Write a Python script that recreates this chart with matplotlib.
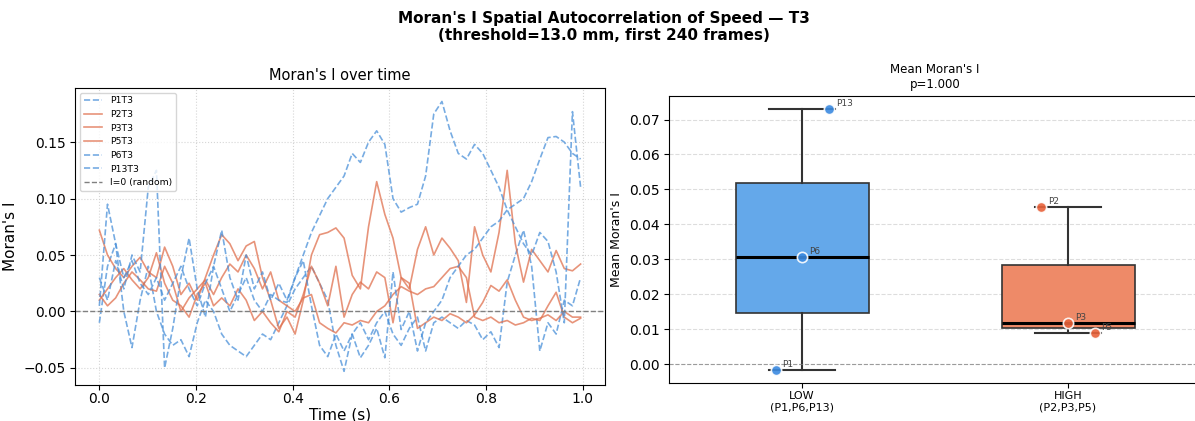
import numpy as np
import matplotlib
matplotlib.use("Agg")
from matplotlib import pyplot as plt

# time axis (first 240 frames, downsampled reading of the curves)
time_s = np.linspace(0, 0.996, 60)

P1T3 = [-0.010, 0.040, 0.060, 0.000, -0.032, 0.010, 0.040, 0.000, -0.020, -0.030,
        -0.025, -0.040, -0.010, 0.010, 0.000, -0.020, -0.030, -0.035, -0.040, -0.030,
        -0.020, -0.025, -0.010, 0.005, 0.020, 0.030, 0.040, 0.025, 0.010, -0.030,
        -0.053, -0.020, -0.010, -0.025, -0.010, 0.000, -0.020, -0.030, -0.015, -0.005,
        -0.035, -0.010, -0.005, -0.010, -0.015, -0.008, -0.012, -0.025, -0.018, -0.032,
        0.026, 0.050, 0.072, 0.040, -0.035, -0.010, -0.020, 0.010, 0.005, 0.030]
P2T3 = [0.072, 0.050, 0.038, 0.030, 0.040, 0.048, 0.035, 0.030, 0.057, 0.040,
        0.015, 0.025, 0.010, 0.030, 0.050, 0.068, 0.060, 0.045, 0.058, 0.062,
        0.030, 0.010, -0.015, -0.005, -0.020, 0.010, 0.050, 0.068, 0.070, 0.074,
        0.065, 0.032, 0.020, 0.075, 0.115, 0.086, 0.065, 0.030, 0.020, 0.055,
        0.075, 0.050, 0.065, 0.056, 0.045, 0.008, 0.075, 0.050, 0.035, 0.070,
        0.125, 0.060, 0.026, 0.055, 0.045, 0.035, 0.054, 0.038, 0.036, 0.042]
P3T3 = [0.015, 0.005, 0.012, 0.025, 0.035, 0.028, 0.020, 0.018, 0.040, 0.025,
        0.000, 0.012, 0.020, 0.028, 0.015, 0.030, 0.042, 0.035, 0.050, 0.038,
        0.020, 0.035, 0.010, 0.005, 0.000, 0.012, 0.015, -0.010, -0.015, -0.019,
        -0.010, -0.012, -0.008, -0.010, 0.000, 0.005, 0.015, 0.022, 0.018, 0.015,
        0.020, 0.022, 0.030, 0.038, 0.040, 0.030, -0.005, -0.008, -0.005, -0.010,
        -0.008, -0.012, -0.010, -0.006, -0.008, 0.005, 0.017, -0.005, -0.010, -0.006]
P5T3 = [0.010, 0.020, 0.030, 0.038, 0.028, 0.020, 0.030, 0.052, 0.025, 0.010,
        0.005, -0.005, 0.015, 0.025, 0.005, 0.012, 0.005, 0.020, 0.010, -0.008,
        0.000, -0.010, -0.018, 0.000, -0.005, 0.015, 0.040, 0.025, 0.005, 0.040,
        -0.005, 0.015, 0.026, 0.020, 0.035, 0.030, -0.010, 0.030, 0.025, -0.015,
        -0.010, -0.005, -0.008, -0.002, -0.005, -0.010, -0.003, 0.008, 0.023, 0.018,
        0.028, 0.010, -0.005, -0.008, -0.006, -0.003, -0.008, 0.000, -0.005, -0.005]
P6T3 = [0.030, 0.010, 0.045, 0.020, 0.050, 0.035, 0.110, 0.125, -0.050, -0.015,
        0.030, 0.065, 0.020, -0.005, 0.040, 0.072, 0.030, 0.010, 0.050, 0.020,
        0.035, 0.010, 0.025, 0.010, 0.030, 0.045, 0.005, -0.030, -0.040, -0.020,
        -0.035, -0.020, -0.041, -0.030, -0.015, -0.041, 0.035, -0.016, 0.000, -0.035,
        -0.010, 0.000, 0.010, 0.030, 0.040, 0.050, 0.055, 0.065, 0.075, 0.080,
        0.090, 0.095, 0.100, 0.115, 0.135, 0.154, 0.155, 0.150, 0.140, 0.135]
P13T3 = [0.005, 0.095, 0.060, 0.030, 0.045, 0.025, 0.015, 0.030, 0.010, 0.025,
         0.040, 0.020, 0.005, 0.025, 0.040, 0.020, 0.000, 0.015, 0.030, 0.010,
         0.000, 0.015, 0.010, 0.008, 0.030, 0.050, 0.070, 0.085, 0.100, 0.110,
         0.120, 0.140, 0.132, 0.150, 0.160, 0.148, 0.100, 0.088, 0.092, 0.095,
         0.120, 0.175, 0.186, 0.160, 0.140, 0.135, 0.148, 0.140, 0.125, 0.110,
         0.090, 0.075, 0.060, 0.050, 0.070, 0.062, 0.035, -0.010, 0.177, 0.110]

series_names = ["P1T3", "P2T3", "P3T3", "P5T3", "P6T3", "P13T3"]
series_vals = [P1T3, P2T3, P3T3, P5T3, P6T3, P13T3]
series_group = ["LOW", "HIGH", "HIGH", "HIGH", "LOW", "LOW"]

# per-participant mean Moran's I
low_ids = ["P1", "P6", "P13"]
low_means = [-0.0017, 0.0307, 0.0730]
high_ids = ["P2", "P3", "P5"]
high_means = [0.0450, 0.0117, 0.0090]
group_labels = ["LOW\n(P1,P6,P13)", "HIGH\n(P2,P3,P5)"]

BLUE_LINE = "#4a90d9"
ORANGE_LINE = "#e0704e"
BLUE_BOX = "#64a8ea"
ORANGE_BOX = "#ee8a68"
BLUE_PT = "#3b8ae0"
ORANGE_PT = "#e8623a"

fig = plt.figure(figsize=(11.95, 4.21), dpi=100)
ax1 = fig.add_axes([0.063, 0.086, 0.443, 0.705])
ax2 = fig.add_axes([0.560, 0.090, 0.445, 0.682])

fig.suptitle("Moran's I Spatial Autocorrelation of Speed \u2014 T3\n(threshold=13.0 mm, first 240 frames)",
             x=0.505, y=0.975, fontsize=11, fontweight="bold")

# left: time series
for name, vals, grp in zip(series_names, series_vals, series_group):
    if grp == "LOW":
        ax1.plot(time_s, vals, "--", color=BLUE_LINE, lw=1.2, alpha=0.75, label=name)
    else:
        ax1.plot(time_s, vals, "-", color=ORANGE_LINE, lw=1.2, alpha=0.75, label=name)
ax1.axhline(0, color="gray", ls="--", lw=1, label="I=0 (random)")
ax1.set_title("Moran's I over time", fontsize=10.5)
ax1.set_xlabel("Time (s)", fontsize=11, labelpad=1)
ax1.set_ylabel("Moran's I", fontsize=11)
ax1.grid(True, ls=":", color="#cccccc", alpha=0.8)
ax1.legend(loc="upper left", fontsize=6.7, framealpha=0.8)
ax1.tick_params(labelsize=10)
ax1.tick_params(axis="x", pad=2)

# right: boxplot of means
bp = ax2.boxplot([low_means, high_means], positions=[0, 1], widths=0.5,
                 patch_artist=True, showfliers=False,
                 medianprops=dict(color="black", lw=2.2),
                 whiskerprops=dict(color="#333333", lw=1.5),
                 capprops=dict(color="#333333", lw=1.5),
                 boxprops=dict(edgecolor="#333333", lw=1.2))
bp["boxes"][0].set_facecolor(BLUE_BOX)
bp["boxes"][1].set_facecolor(ORANGE_BOX)

offsets = [-0.1, 0.0, 0.1]
for pos, ids, vals, col in [(0, low_ids, low_means, BLUE_PT), (1, high_ids, high_means, ORANGE_PT)]:
    xs = [pos + o for o in offsets]
    ax2.scatter(xs, vals, s=55, color=col, edgecolor="white", lw=1.2, alpha=0.9, zorder=4)
    for x, y, pid in zip(xs, vals, ids):
        ax2.annotate(pid, (x, y), xytext=(5, 2), textcoords="offset points",
                     fontsize=6.5, color="#444444")

ax2.axhline(0, color="gray", ls="--", lw=0.8, alpha=0.7)
ax2.set_xlim(-0.5, 1.5)
ax2.set_xticks([0, 1])
ax2.set_xticklabels(group_labels, fontsize=8)
ax2.tick_params(axis="x", pad=2)
ax2.set_ylabel("Mean Moran's I", fontsize=9)
ax2.set_title("Mean Moran's I\np=1.000", fontsize=8.5)
ax2.yaxis.grid(True, ls="--", color="#dddddd")
ax2.set_axisbelow(True)
ax2.tick_params(axis="y", labelsize=10)

plt.savefig("out.png", dpi=100)
